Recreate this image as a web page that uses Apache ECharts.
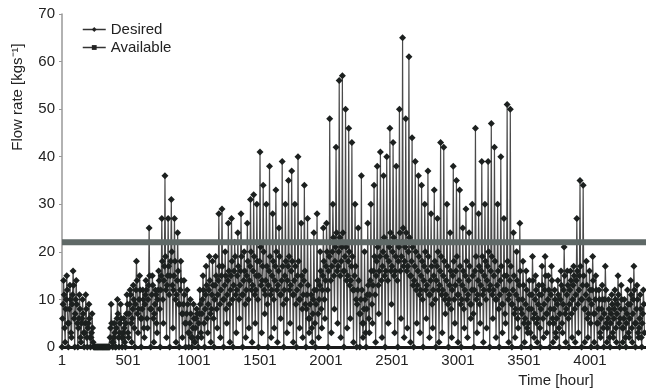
<!DOCTYPE html>
<html>
<head>
<meta charset="utf-8">
<script src="https://cdn.jsdelivr.net/npm/echarts@6/dist/echarts.min.js"></script>
<style>
  html, body { margin: 0; padding: 0; background: #fff; }
  #chart { width: 646px; height: 392px; }
</style>
</head>
<body>
<div id="chart"></div>
<script>
// daily readings (one entry per day, 24 h apart), values in kg/s
const dayPeak = [
  14, 15, 13, 16, 14, 11, 10, 11, 9, 7,
  0, 0, 0, 0, 0,
  9, 5, 10, 9, 6,
  11, 12, 13, 18, 15, 12, 14, 25, 15, 12,
  16, 27, 36, 27, 31, 27, 24, 18, 14, 12,
  10, 9, 8, 12, 15, 17, 19, 18, 19, 28,
  29, 20, 26, 27, 22, 24, 28, 20, 26, 31,
  32, 30, 41, 34, 30, 38, 28, 33, 25, 39,
  30, 35, 37, 30, 40, 26, 34, 27, 22, 24,
  28, 20, 25, 26, 48, 30, 42, 56, 57, 50,
  46, 43, 30, 25, 36, 20, 26, 30, 34, 38,
  41, 36, 40, 46, 43, 38, 50, 65, 48, 61,
  44, 39, 36, 34, 30, 37, 28, 33, 27, 43,
  42, 30, 24, 38, 35, 33, 25, 29, 24, 30,
  46, 28, 39, 30, 39, 47, 42, 30, 40, 27,
  51, 50, 24, 20, 26, 18, 16, 14, 19, 15,
  13, 17, 19, 15, 17, 12, 14, 16, 21, 16,
  16, 17, 27, 35, 34, 18, 16, 19, 15, 12,
  13, 17, 10, 11, 12, 15, 13, 10, 12, 14,
  17, 13, 11, 12
]
const dayMid = [
  6, 8, 5, 9, 7, 4, 5, 3, 4, 2,
  0, 0, 0, 0, 0,
  2, 1, 4, 3, 2,
  5, 7, 6, 9, 8, 6, 9, 10, 8, 7,
  10, 12, 14, 13, 15, 12, 11, 9, 7, 5,
  3, 2, 4, 5, 7, 8, 9, 8, 10, 11,
  12, 10, 11, 12, 13, 12, 13, 11, 12, 14,
  13, 12, 15, 14, 11, 13, 12, 14, 13, 11,
  12, 14, 13, 11, 12, 10, 11, 8, 6, 7,
  9, 10, 12, 14, 16, 17, 18, 17, 18, 16,
  15, 14, 12, 9, 7, 5, 8, 11, 13, 15,
  16, 17, 16, 18, 17, 16, 18, 19, 18, 17,
  15, 14, 13, 12, 14, 13, 11, 12, 14, 13,
  12, 11, 10, 12, 13, 11, 10, 12, 11, 9,
  12, 11, 13, 12, 14, 13, 12, 10, 11, 9,
  12, 11, 9, 8, 10, 7, 6, 5, 8, 7,
  6, 8, 9, 7, 8, 5, 6, 7, 9, 8,
  9, 10, 11, 12, 10, 8, 7, 9, 7, 5,
  6, 7, 4, 5, 6, 7, 6, 4, 5, 6,
  7, 5, 4, 5
]
const dayMorn = [
  9, 10, 8, 11, 10, 6, 6, 5, 5, 3,
  0, 0, 0, 0, 0,
  4, 2, 6, 5, 3,
  7, 9, 8, 12, 10, 8, 11, 13, 11, 9,
  12, 15, 17, 15, 18, 15, 14, 12, 9, 7,
  5, 4, 6, 7, 10, 11, 12, 11, 13, 14,
  15, 13, 14, 15, 16, 15, 16, 14, 15, 17,
  16, 15, 18, 17, 14, 16, 15, 17, 16, 14,
  15, 17, 16, 14, 15, 13, 14, 11, 9, 10,
  12, 13, 15, 17, 19, 20, 21, 20, 21, 19,
  18, 17, 15, 12, 10, 8, 11, 14, 16, 18,
  19, 20, 19, 21, 20, 19, 21, 22, 21, 20,
  18, 17, 16, 15, 17, 16, 14, 15, 17, 16,
  15, 14, 13, 15, 16, 14, 13, 15, 14, 12,
  16, 14, 16, 15, 17, 16, 15, 13, 14, 12,
  15, 14, 12, 11, 13, 10, 9, 8, 11, 10,
  9, 11, 12, 10, 11, 8, 9, 10, 12, 11,
  12, 13, 14, 15, 13, 11, 10, 12, 10, 8,
  8, 10, 6, 7, 8, 9, 8, 6, 7, 9,
  10, 8, 6, 7
]
const dayEve = [
  11, 12, 10, 13, 9, 8, 7, 8, 6, 4,
  0, 0, 0, 0, 0,
  5, 3, 7, 6, 4,
  9, 11, 10, 14, 12, 10, 12, 15, 13, 11,
  14, 18, 19, 17, 20, 18, 16, 14, 11, 9,
  7, 6, 7, 9, 12, 13, 14, 13, 15, 17,
  17, 15, 16, 18, 19, 17, 19, 16, 18, 20,
  19, 18, 21, 20, 17, 19, 18, 20, 19, 17,
  18, 19, 18, 17, 18, 15, 16, 13, 11, 12,
  14, 16, 18, 20, 22, 23, 24, 23, 24, 21,
  20, 19, 17, 14, 12, 10, 13, 16, 19, 21,
  22, 23, 22, 24, 23, 22, 24, 25, 24, 23,
  21, 20, 19, 18, 20, 19, 17, 18, 20, 19,
  18, 17, 16, 18, 19, 17, 16, 18, 17, 15,
  19, 17, 19, 18, 20, 19, 18, 16, 17, 15,
  18, 17, 15, 14, 16, 13, 12, 11, 14, 12,
  11, 13, 15, 12, 14, 10, 11, 13, 15, 13,
  14, 15, 16, 17, 15, 13, 12, 14, 12, 10,
  10, 12, 8, 9, 10, 11, 10, 8, 9, 11,
  12, 10, 8, 9
]
const dayNight = [
  4, 5, 3, 6, 5, 2, 3, 2, 2, 1,
  0, 0, 0, 0, 0,
  1, 0, 2, 2, 1,
  3, 5, 4, 7, 6, 4, 6, 8, 6, 5,
  8, 10, 12, 11, 13, 10, 9, 7, 5, 3,
  2, 1, 2, 3, 5, 6, 7, 6, 8, 9,
  10, 8, 9, 10, 11, 10, 11, 9, 10, 12,
  11, 10, 13, 12, 9, 11, 10, 12, 11, 9,
  10, 12, 11, 9, 10, 8, 9, 6, 4, 5,
  7, 8, 10, 12, 14, 15, 16, 15, 16, 14,
  13, 12, 10, 7, 5, 3, 6, 9, 11, 13,
  14, 15, 14, 16, 15, 14, 16, 17, 16, 15,
  13, 12, 11, 10, 12, 11, 9, 10, 12, 11,
  10, 9, 8, 10, 11, 9, 8, 10, 9, 7,
  10, 9, 11, 10, 12, 11, 10, 8, 9, 7,
  10, 9, 7, 6, 8, 5, 4, 3, 6, 5,
  4, 6, 7, 5, 6, 3, 4, 5, 7, 6,
  7, 8, 9, 10, 8, 6, 5, 7, 5, 3,
  4, 5, 2, 3, 4, 5, 4, 2, 3, 4,
  5, 3, 2, 3
]
const dayLow = [
  0, 1, 0, 2, 0, 0, 1, 0, 0, 0,
  0, 0, 0, 0, 0,
  0, 0, 0, 0, 0,
  0, 2, 1, 0, 3, 0, 2, 4, 0, 1,
  3, 0, 5, 2, 0, 4, 1, 0, 2, 0,
  0, 0, 1, 0, 2, 0, 3, 1, 0, 4,
  2, 0, 5, 1, 0, 3, 6, 0, 2, 4,
  1, 5, 0, 3, 7, 0, 2, 4, 1, 6,
  0, 3, 5, 1, 0, 4, 2, 0, 3, 1,
  0, 2, 4, 6, 0, 3, 8, 5, 2, 0,
  4, 6, 1, 0, 0, 2, 0, 3, 5, 1,
  7, 2, 0, 5, 9, 3, 0, 6, 2, 4,
  1, 0, 5, 3, 0, 6, 2, 4, 0, 1,
  3, 7, 0, 2, 5, 1, 0, 4, 2, 6,
  0, 3, 5, 1, 4, 0, 6, 2, 0, 3,
  5, 1, 0, 2, 4, 0, 1, 3, 0, 2,
  1, 0, 2, 3, 0, 1, 2, 0, 3, 1,
  0, 2, 1, 3, 0, 1, 2, 0, 1, 0,
  2, 0, 1, 0, 2, 1, 0, 1, 0, 2,
  1, 0, 2, 0
]
const available = 22
const xMax = 4424
const yTicks = [0, 70, 10]  // min, max, interval

// readings inside a day, every 4 hours: night low, morning, late morning, peak, evening, night
const desired = []
dayPeak.forEach((p, d) => {
  const h = d * 24
  desired.push(
    [h, dayLow[d]], [h + 4, dayMid[d]], [h + 8, dayMorn[d]],
    [h + 12, p], [h + 16, dayEve[d]], [h + 20, dayNight[d]]
  )
})

const font = '"Liberation Sans", Arial, sans-serif'

const option = {
  animation: false,
  textStyle: { fontFamily: font },
  grid: { left: 62, right: 0, top: 14, bottom: 45 },
  legend: {
    orient: 'vertical',
    left: 77,
    top: 17,
    itemGap: 3,
    itemWidth: 23,
    itemHeight: 6,
    textStyle: { fontSize: 15, color: '#222', fontFamily: font },
    lineStyle: { color: '#333', width: 1.5 },
    itemStyle: { color: '#222' },
    data: ['Desired', 'Available'],
  },
  graphic: [
    {
      type: 'text',
      x: 18,
      y: 97,
      rotation: Math.PI / 2,
      style: { text: 'Flow rate [kgs⁻¹]', font: '15px ' + font, fill: '#222', align: 'center', verticalAlign: 'middle' },
    },
    {
      type: 'text',
      x: 556,
      y: 381,
      style: { text: 'Time [hour]', font: '15px ' + font, fill: '#222', align: 'center', verticalAlign: 'middle' },
    },
  ],
  xAxis: {
    type: 'value',
    min: 0,
    max: xMax,
    interval: 500,
    splitLine: { show: false },
    axisLine: { lineStyle: { color: '#1a1a1a', width: 3 } },
    axisTick: { show: false },
    axisLabel: {
      fontSize: 15,
      color: '#222',
      margin: 6,
      showMaxLabel: false,
      formatter: (v) => (v % 500 === 0 ? String(v + 1) : ''),
    },
  },
  yAxis: {
    type: 'value',
    min: yTicks[0],
    max: yTicks[1],
    interval: yTicks[2],
    splitLine: { show: false },
    axisLine: { show: true, lineStyle: { color: '#999', width: 1.5 } },
    axisTick: { show: true, length: 3, lineStyle: { color: '#999' } },
    axisLabel: { fontSize: 15, color: '#222', margin: 7 },
  },
  series: [
    {
      name: 'Desired',
      type: 'line',
      data: desired,
      symbol: 'diamond',
      symbolSize: 7,
      showAllSymbol: true,
      itemStyle: { color: '#1c201f' },
      lineStyle: { color: '#4a4a4a', width: 1.2 },
      z: 2,
    },
    {
      name: 'Available',
      type: 'line',
      data: [[0, available], [xMax, available]],
      symbol: 'rect',
      showSymbol: false,
      itemStyle: { color: '#222' },
      lineStyle: { color: '#5f6967', width: 6 },
      z: 3,
    },
  ],
}

const chart = echarts.init(document.getElementById('chart'))
chart.setOption(option)
</script>
</body>
</html>
